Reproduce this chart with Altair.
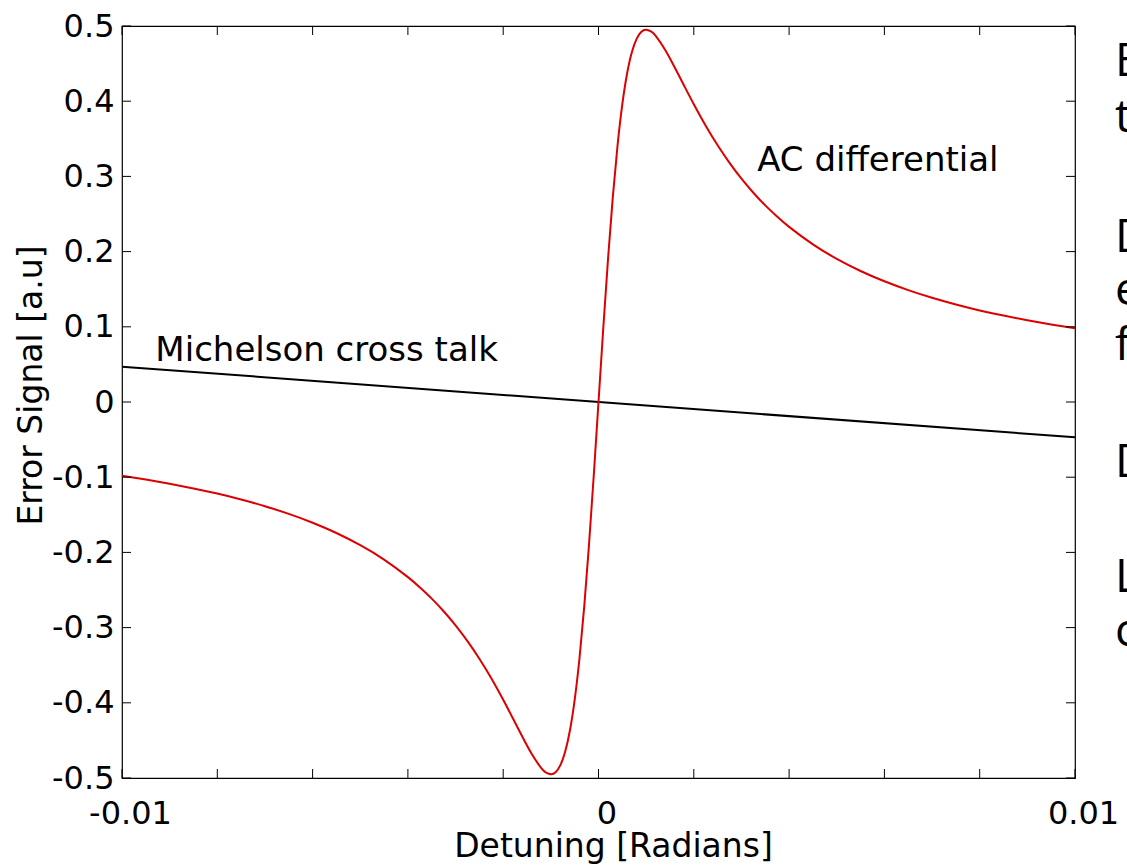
import altair as alt
import pandas as pd

# ---- data ----
x_red = [-0.0100, -0.0095, -0.0090, -0.0085, -0.0080, -0.0075, -0.0070, -0.0065,
         -0.0060, -0.0055, -0.0050, -0.0045, -0.0040, -0.00375, -0.0035, -0.00325,
         -0.0030, -0.00275, -0.0025, -0.00225, -0.0020, -0.0018, -0.0016, -0.0014,
         -0.0012, -0.0011, -0.0010, -0.0009, -0.0008, -0.0007, -0.0006, -0.0005,
         -0.0004, -0.0003, -0.0002, -0.0001, 0.0000,
         0.0001, 0.0002, 0.0003, 0.0004, 0.0005, 0.0006, 0.0007, 0.0008,
         0.0009, 0.0010, 0.0011, 0.0012, 0.0014, 0.0016, 0.0018, 0.0020,
         0.00225, 0.0025, 0.00275, 0.0030, 0.00325, 0.0035, 0.00375, 0.0040,
         0.0045, 0.0050, 0.0055, 0.0060, 0.0065, 0.0070, 0.0075, 0.0080,
         0.0085, 0.0090, 0.0095, 0.0100]
y_red = [-0.0980, -0.1031, -0.1087, -0.1149, -0.1218, -0.1297, -0.1386, -0.1488,
         -0.1605, -0.1742, -0.1904, -0.2096, -0.2329, -0.2465, -0.2615, -0.2783,
         -0.2970, -0.3180, -0.3414, -0.3674, -0.3960, -0.4203, -0.4449, -0.4682,
         -0.4869, -0.4928, -0.4950, -0.4923, -0.4829, -0.4651, -0.4368, -0.3960,
         -0.3414, -0.2725, -0.1904, -0.0980, 0.0000,
         0.0980, 0.1904, 0.2725, 0.3414, 0.3960, 0.4368, 0.4651, 0.4829,
         0.4923, 0.4950, 0.4928, 0.4869, 0.4682, 0.4449, 0.4203, 0.3960,
         0.3674, 0.3414, 0.3180, 0.2970, 0.2783, 0.2615, 0.2465, 0.2329,
         0.2096, 0.1904, 0.1742, 0.1605, 0.1488, 0.1386, 0.1297, 0.1218,
         0.1149, 0.1087, 0.1031, 0.0980]

x_black = [-0.01, 0.01]
y_black = [0.047, -0.047]

x_ticks = [-0.01, -0.008, -0.006, -0.004, -0.002, 0.0, 0.002, 0.004, 0.006, 0.008, 0.01]
x_label_values = [-0.01, 0.0, 0.01]
y_ticks = [-0.5, -0.4, -0.3, -0.2, -0.1, 0.0, 0.1, 0.2, 0.3, 0.4, 0.5]

ann_text = ["Michelson cross talk", "AC differential"]
ann_x = [-0.0093, 0.00333]
ann_y = [0.068, 0.320]

side_text = ["E", "t", "D", "e", "f", "D", "L", "c"]
side_baseline_px = [50, 106, 226, 279, 334, 451, 566, 620]

# ---- layout ----
W, H = 953, 752
TICK = 9
FONT = "DejaVu Sans"

xs = alt.Scale(domain=[-0.01, 0.01], nice=False, zero=False)
ys = alt.Scale(domain=[-0.5, 0.5], nice=False, zero=False)

x_axis = alt.Axis(
    values=x_label_values, title="Detuning [Radians]", ticks=False, domain=False, grid=False,
    labelExpr="datum.value == 0 ? '0' : (datum.value < 0 ? '-' : '') + format(abs(datum.value), '.2f')",
    labelPadding=20, labelOffset=8, labelFlush=False, labelOverlap=False,
    titleX=491, titleY=78, titleBaseline="alphabetic", titleAlign="center",
)
y_axis = alt.Axis(
    values=y_ticks, title="Error Signal [a.u]", ticks=False, domain=False, grid=False,
    labelExpr="datum.value == 0 ? '0' : (datum.value < 0 ? '-' : '') + format(abs(datum.value), '.1f')",
    labelPadding=8, labelFlush=False, labelOverlap=False,
    titleX=-91, titleY=359, titleAngle=270, titleBaseline="middle", titleAlign="center",
)

red_df = pd.DataFrame({"x": x_red, "y": y_red})
black_df = pd.DataFrame({"x": x_black, "y": y_black})
xt_df = pd.DataFrame({"x": x_ticks})
yt_df = pd.DataFrame({"y": y_ticks})
ann_df = pd.DataFrame({"x": ann_x, "y": ann_y, "t": ann_text})
side_df = pd.DataFrame({"py": side_baseline_px, "t": side_text})

X = alt.X("x:Q", scale=xs, axis=x_axis)
Y = alt.Y("y:Q", scale=ys, axis=y_axis)

black = alt.Chart(black_df).mark_line(color="black", strokeWidth=2).encode(x=X, y=Y)
red = alt.Chart(red_df).mark_line(color="#dd0000", strokeWidth=2, interpolate="natural").encode(x=X, y=Y)

tick_bottom = alt.Chart(xt_df).mark_rule(color="black", strokeWidth=1).encode(
    x=X, y=alt.value(H), y2=alt.value(H - TICK))
tick_top = alt.Chart(xt_df).mark_rule(color="black", strokeWidth=1).encode(
    x=X, y=alt.value(0), y2=alt.value(TICK))
tick_left = alt.Chart(yt_df).mark_rule(color="black", strokeWidth=1).encode(
    y=Y, x=alt.value(0), x2=alt.value(TICK))
tick_right = alt.Chart(yt_df).mark_rule(color="black", strokeWidth=1).encode(
    y=Y, x=alt.value(W), x2=alt.value(W - TICK))

ann = alt.Chart(ann_df).mark_text(
    font=FONT, fontSize=34, align="left", baseline="middle", color="black"
).encode(x=X, y=Y, text="t:N")

side = alt.Chart(side_df).mark_text(
    font="Open Sans", fontSize=46, align="left", baseline="alphabetic", color="black"
).encode(x=alt.value(993), y=alt.Y("py:Q", scale=None, axis=None), text="t:N")

chart = alt.layer(black, red, tick_bottom, tick_top, tick_left, tick_right, ann, side).properties(
    width=W, height=H,
    autosize=alt.AutoSizeParams(type="none"),
    padding={"left": 122, "top": 26, "right": 52, "bottom": 89},
).configure_view(
    stroke="black", strokeWidth=1.2
).configure_axis(
    labelFont=FONT, labelFontSize=32, labelColor="black",
    titleFont=FONT, titleFontSize=33, titleColor="black", titleFontWeight="normal",
)

chart.save("out.html", embed_options={"renderer": "svg", "actions": False})
